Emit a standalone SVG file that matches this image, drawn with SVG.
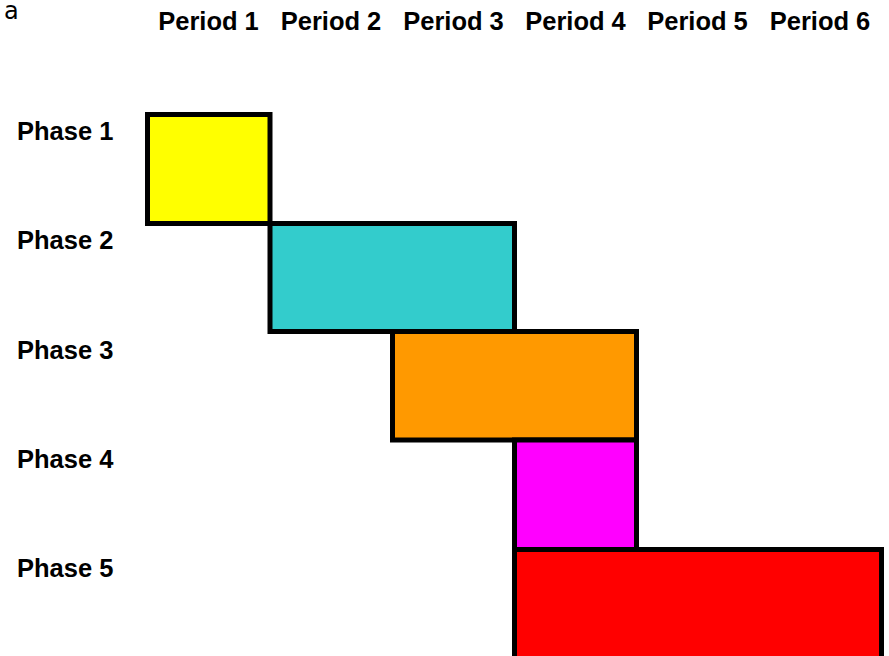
<svg xmlns="http://www.w3.org/2000/svg" width="889" height="656" viewBox="0 0 889 656">
<style>
.hdr{font-family:"Liberation Sans",Arial,sans-serif;font-weight:bold;font-size:25.5px;fill:#000;text-anchor:middle}
.lbl{font-family:"Liberation Sans",Arial,sans-serif;font-weight:bold;font-size:25.5px;fill:#000}
.bar{stroke:#000;stroke-width:5}
</style>
<rect width="889" height="656" fill="#fff"/>
<text x="4" y="18.5" font-family="DejaVu Sans, sans-serif" font-size="24" fill="#000">a</text>
<g id="headers">
<text class="hdr" x="208.5" y="29.5">Period 1</text>
<text class="hdr" x="331" y="29.5">Period 2</text>
<text class="hdr" x="453.5" y="29.5">Period 3</text>
<text class="hdr" x="575.5" y="29.5">Period 4</text>
<text class="hdr" x="697.5" y="29.5">Period 5</text>
<text class="hdr" x="820" y="29.5">Period 6</text>
</g>
<g id="phase1"><text class="lbl" x="17" y="140">Phase 1</text><rect class="bar" x="147.5" y="114.5" width="122.5" height="109" fill="#ffff00"/></g>
<g id="phase3"><text class="lbl" x="17" y="358.5">Phase 3</text><rect class="bar" x="392.5" y="331.5" width="244" height="108.5" fill="#ff9900"/></g>
<g id="phase2"><text class="lbl" x="17" y="249">Phase 2</text><rect class="bar" x="270" y="223.5" width="244.5" height="108" fill="#33cccc"/></g>
<g id="phase4"><text class="lbl" x="17" y="467.5">Phase 4</text><rect class="bar" x="514.5" y="440" width="122" height="109.5" fill="#ff00ff"/></g>
<g id="phase5"><text class="lbl" x="17" y="577">Phase 5</text><rect class="bar" x="514.5" y="549.5" width="367" height="109" fill="#ff0000"/></g>
<g id="connectors"></g>
</svg>
